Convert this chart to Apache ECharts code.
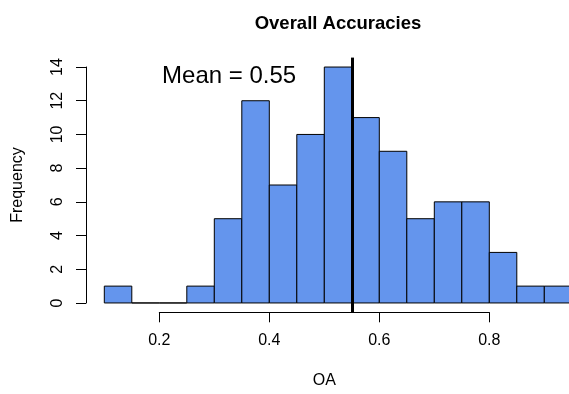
<!DOCTYPE html>
<html>
<head>
<meta charset="utf-8">
<script src="https://cdn.jsdelivr.net/npm/echarts@6/dist/echarts.min.js"></script>
<style>
html,body{margin:0;padding:0;background:#fff;}
#chart{width:569px;height:394px;}
</style>
</head>
<body>
<div id="chart"></div>
<script>
// Histogram bins (OA) and frequencies
var binStarts = [0.10, 0.15, 0.20, 0.25, 0.30, 0.35, 0.40, 0.45, 0.50, 0.55, 0.60, 0.65, 0.70, 0.75, 0.80, 0.85, 0.90];
var binEnds   = [0.15, 0.20, 0.25, 0.30, 0.35, 0.40, 0.45, 0.50, 0.55, 0.60, 0.65, 0.70, 0.75, 0.80, 0.85, 0.90, 0.95];
var counts    = [1, 0, 0, 1, 5, 12, 7, 10, 14, 11, 9, 5, 6, 6, 3, 1, 1];
var meanValue = 0.546;
var meanLabel = 'Mean = 0.55';
var meanLabelPos = [0.327, 13.43];
var titleText = 'Overall Accuracies';
var xName = 'OA';
var yName = 'Frequency';

var font = 'Liberation Sans, Arial, Helvetica, sans-serif';
var barData = binStarts.map(function (s, i) { return [s, binEnds[i], counts[i]]; });

var chart = echarts.init(document.getElementById('chart'), null, {renderer: 'canvas'});
chart.setOption({
  animation: false,
  backgroundColor: '#ffffff',
  title: {
    text: titleText,
    left: 333, top: 9, textAlign: 'center',
    textStyle: {fontFamily: font, fontWeight: 'bold', fontSize: 18.5, color: '#000'}
  },
  grid: [
    {left: 85.6, top: 57.6, right: 0, height: 254.8, containLabel: false},
    {left: 86, top: 67, width: 10, height: 236, containLabel: false},
    {left: 159.3, top: 300, width: 330, height: 12.3, containLabel: false}
  ],
  xAxis: [
    {gridIndex: 0, type: 'value', min: 0.066, max: 0.9449, show: false},
    {gridIndex: 1, type: 'value', min: 0, max: 1, show: false},
    {gridIndex: 2, type: 'value', min: 0.2, max: 0.8, interval: 0.2, position: 'bottom',
     name: xName, nameLocation: 'middle', nameGap: 60,
     nameTextStyle: {fontFamily: font, fontSize: 16, color: '#000'},
     axisLine: {show: true, lineStyle: {color: '#000', width: 1}},
     axisTick: {show: true, inside: false, length: 10, lineStyle: {color: '#000'}},
     axisLabel: {margin: 20, fontFamily: font, fontSize: 16, color: '#000',
       formatter: function (v) { return v.toFixed(1); }},
     splitLine: {show: false}}
  ],
  yAxis: [
    {gridIndex: 0, type: 'value', min: -0.56, max: 14.56, show: false},
    {gridIndex: 1, type: 'value', min: 0, max: 14, interval: 2, position: 'left',
     name: yName, nameLocation: 'middle', nameGap: 60, nameRotate: 90,
     nameTextStyle: {fontFamily: font, fontSize: 16, color: '#000'},
     axisLine: {show: true, lineStyle: {color: '#000', width: 1}},
     axisTick: {show: true, inside: false, length: 10, lineStyle: {color: '#000'}},
     axisLabel: {margin: 20, rotate: 90, fontFamily: font, fontSize: 16, color: '#000'},
     splitLine: {show: false}},
    {gridIndex: 2, type: 'value', min: 0, max: 1, show: false}
  ],
  series: [
    {
      type: 'custom',
      xAxisIndex: 0, yAxisIndex: 0,
      clip: false,
      data: barData,
      renderItem: function (params, api) {
        var p0 = api.coord([api.value(0), 0]);
        var p1 = api.coord([api.value(1), api.value(2)]);
        return {
          type: 'rect',
          shape: {x: p0[0], y: p1[1], width: p1[0] - p0[0], height: p0[1] - p1[1]},
          style: {fill: '#6495ED', stroke: '#000', lineWidth: 1}
        };
      },
      markLine: {
        silent: true, symbol: 'none', animation: false,
        label: {show: false},
        lineStyle: {color: '#000', width: 3, type: 'solid'},
        data: [{xAxis: meanValue}]
      },
      markPoint: {
        silent: true, symbol: 'circle', symbolSize: 0,
        label: {show: true, position: 'inside', formatter: meanLabel,
          fontFamily: font, fontSize: 24, color: '#000'},
        data: [{coord: meanLabelPos}]
      }
    }
  ]
});
</script>
</body>
</html>
